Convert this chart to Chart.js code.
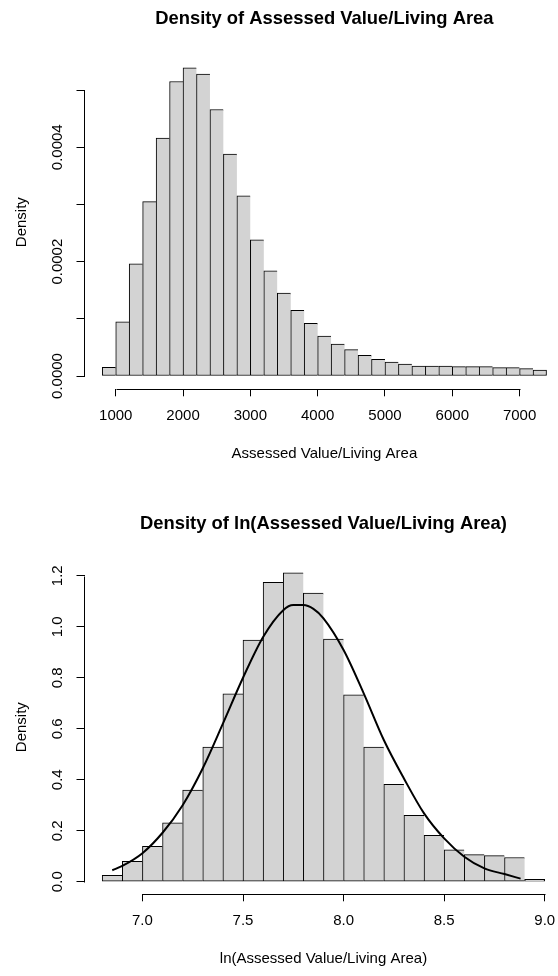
<!DOCTYPE html>
<html><head><meta charset="utf-8">
<script src="https://cdn.jsdelivr.net/npm/chart.js@4/dist/chart.umd.min.js"></script>
<style>
html,body{margin:0;padding:0;background:#fff;overflow:hidden;}
#wrap{position:relative;width:558px;height:976px;overflow:hidden;background:#fff;}
.box{position:absolute;left:0;width:566px;height:505px;}
#b1{top:0;} #b2{top:505px;}
</style></head><body>
<div id="wrap">
  <div class="box" id="b1"><canvas id="c1" width="566" height="505" style="width:566px;height:505px"></canvas></div>
  <div class="box" id="b2"><canvas id="c2" width="566" height="505" style="width:566px;height:505px"></canvas></div>
</div>
<script>
// ---------- data: top histogram (Assessed Value / Living Area) ----------
const topBinStarts = [800,1000,1200,1400,1600,1800,2000,2200,2400,2600,2800,3000,3200,3400,3600,3800,4000,4200,4400,4600,4800,5000,5200,5400,5600,5800,6000,6200,6400,6600,6800,7000,7200];
const topDensity = [0.0000152,0.0000949,0.000196,0.000305,0.000416,0.000515,0.000539,0.000528,0.000466,0.000388,0.000315,0.000238,0.000184,0.000145,0.000115,0.0000921,0.0000699,0.0000559,0.000046,0.0000361,0.0000291,0.0000245,0.000021,0.0000175,0.0000175,0.0000175,0.0000163,0.0000163,0.0000163,0.0000146,0.0000146,0.0000128,0.0000105];
const topXTicks = [1000,2000,3000,4000,5000,6000,7000];
const topXLabels = ['1000','2000','3000','4000','5000','6000','7000'];
const topYTicks = [0,0.0001,0.0002,0.0003,0.0004,0.0005];
const topYLabels = ['0.0000','','0.0002','','0.0004',''];
const topTitle = 'Density of Assessed Value/Living Area';
const topXTitle = 'Assessed Value/Living Area';

// ---------- data: bottom histogram (log) ----------
const lnBinStarts = [6.8,6.9,7.0,7.1,7.2,7.3,7.4,7.5,7.6,7.7,7.8,7.9,8.0,8.1,8.2,8.3,8.4,8.5,8.6,8.7,8.8,8.9];
const lnDensity = [0.025,0.080,0.139,0.231,0.359,0.528,0.737,0.948,1.174,1.212,1.132,0.952,0.733,0.528,0.382,0.260,0.182,0.125,0.106,0.102,0.095,0.009];
const curveX = [6.85,6.90,7.00,7.10,7.20,7.30,7.40,7.50,7.60,7.70,7.75,7.80,7.85,7.90,8.00,8.10,8.20,8.30,8.40,8.50,8.60,8.70,8.80,8.88];
const curveY = [0.045,0.062,0.112,0.192,0.300,0.445,0.620,0.800,0.960,1.065,1.085,1.085,1.070,1.033,0.909,0.739,0.556,0.405,0.268,0.170,0.098,0.052,0.030,0.012];
const lnXTicks = [7.0,7.5,8.0,8.5,9.0];
const lnXLabels = ['7.0','7.5','8.0','8.5','9.0'];
const lnYTicks = [0,0.2,0.4,0.6,0.8,1.0,1.2];
const lnYLabels = ['0.0','0.2','0.4','0.6','0.8','1.0','1.2'];
const lnTitle = 'Density of ln(Assessed Value/Living Area)';
const lnXTitle = 'ln(Assessed Value/Living Area)';
const yTitle = 'Density';

// ---------- drawing ----------
const FONT = "'Liberation Sans', Arial, Helvetica, sans-serif";

const rAxes = {
  id: 'rAxes',
  afterDraw(chart, args, opts) {
    const {ctx, chartArea} = chart;
    const xs = chart.scales.x, ys = chart.scales.y;
    ctx.save();
    ctx.strokeStyle = '#000';
    ctx.lineWidth = 1;
    const xt = xs.ticks, yt = ys.ticks;
    const ax = Math.round(chartArea.left) - 0.5;
    const ay = Math.round(chartArea.bottom) + 0.5;
    ctx.beginPath();
    ctx.moveTo(ax, Math.round(ys.getPixelForValue(yt[0].value)) + 0.5);
    ctx.lineTo(ax, Math.round(ys.getPixelForValue(yt[yt.length - 1].value)) + 0.5);
    ctx.moveTo(Math.round(xs.getPixelForValue(xt[0].value)) + 0.5, ay);
    ctx.lineTo(Math.round(xs.getPixelForValue(xt[xt.length - 1].value)) + 0.5, ay);
    ctx.stroke();
    ctx.fillStyle = '#000';
    ctx.font = '15px ' + FONT;
    ctx.textAlign = 'center';
    ctx.textBaseline = 'middle';
    yt.forEach((t, i) => {
      const lab = opts.labels[i];
      if (!lab) return;
      ctx.save();
      ctx.translate(opts.labelX, ys.getPixelForValue(t.value));
      ctx.rotate(-Math.PI / 2);
      ctx.fillText(lab, 0, 0);
      ctx.restore();
    });
    ctx.restore();
  }
};

function barDataset(starts, dens) {
  const w = starts[1] - starts[0];
  const n = starts.length;
  return {
    type: 'bar',
    data: starts.map((s, i) => ({x: s + w / 2, y: dens[i]})),
    backgroundColor: '#D3D3D3',
    borderColor: '#000',
    borderWidth: (c) => ({top: 1, left: 1, bottom: 1, right: c.dataIndex === n - 1 ? 1 : 0}),
    borderSkipped: false,
    barPercentage: 1,
    categoryPercentage: 1,
    grouped: false,
    order: 1
  };
}

function makeChart(id, cfg) {
  return new Chart(document.getElementById(id), {
    type: 'bar',
    data: {datasets: cfg.datasets},
    plugins: [rAxes],
    options: {
      responsive: false,
      animation: false,
      devicePixelRatio: 1,
      layout: {padding: {left: 0, right: 1.7, top: 0, bottom: 0}},
      plugins: {
        legend: {display: false},
        tooltip: {enabled: false},
        title: {
          display: true, text: cfg.title, fullSize: false, color: '#000',
          font: {family: FONT, size: 18.4, weight: 'bold', lineHeight: 1.2},
          padding: {top: 7.8, bottom: 25.2}
        },
        rAxes: {labels: cfg.yLabels, labelX: 57.5}
      },
      scales: {
        x: {
          type: 'linear', position: 'bottom', offset: false,
          min: cfg.xMin, max: cfg.xMax,
          afterBuildTicks: (s) => { s.ticks = cfg.xTicks.map(v => ({value: v})); },
          afterFit: (s) => { s.height = 115.7; },
          grid: {display: true, drawOnChartArea: false, drawTicks: true, tickLength: 7, tickColor: '#000', tickWidth: 1, offset: false, color: '#000'},
          border: {display: false},
          ticks: {
            autoSkip: false, maxRotation: 0, minRotation: 0, padding: 10.7, color: '#000',
            font: {family: FONT, size: 15, lineHeight: 1.2},
            callback: (v, i) => cfg.xLabels[i]
          },
          title: {display: true, text: cfg.xTitle, color: '#000', font: {family: FONT, size: 15, lineHeight: 1.2}, padding: {top: 0, bottom: 42}}
        },
        y: {
          type: 'linear', position: 'left',
          min: cfg.yMin, max: cfg.yMax,
          afterBuildTicks: (s) => { s.ticks = cfg.yTicks.map(v => ({value: v})); },
          afterFit: (s) => { s.width = 84.5; },
          grid: {display: true, drawOnChartArea: false, drawTicks: true, tickLength: 8, tickColor: '#000', tickWidth: 1, color: '#000'},
          border: {display: false},
          ticks: {display: false},
          title: {display: true, text: yTitle, color: '#000', font: {family: FONT, size: 15, lineHeight: 1.2}, padding: {top: 12.5, bottom: 0}}
        }
      }
    }
  });
}

makeChart('c1', {
  title: topTitle, xTitle: topXTitle,
  datasets: [barDataset(topBinStarts, topDensity)],
  xMin: 536, xMax: 7664, xTicks: topXTicks, xLabels: topXLabels,
  yMin: -0.00002325, yMax: 0.0005612, yTicks: topYTicks, yLabels: topYLabels
});

makeChart('c2', {
  title: lnTitle, xTitle: lnXTitle,
  datasets: [
    {
      type: 'line',
      data: curveX.map((x, i) => ({x: x, y: curveY[i]})),
      borderColor: '#000', borderWidth: 2, pointRadius: 0, fill: false,
      cubicInterpolationMode: 'monotone', order: 0
    },
    barDataset(lnBinStarts, lnDensity)
  ],
  xMin: 6.712, xMax: 9.088, xTicks: lnXTicks, xLabels: lnXLabels,
  yMin: -0.0494, yMax: 1.2616, yTicks: lnYTicks, yLabels: lnYLabels
});
</script>
</body></html>
